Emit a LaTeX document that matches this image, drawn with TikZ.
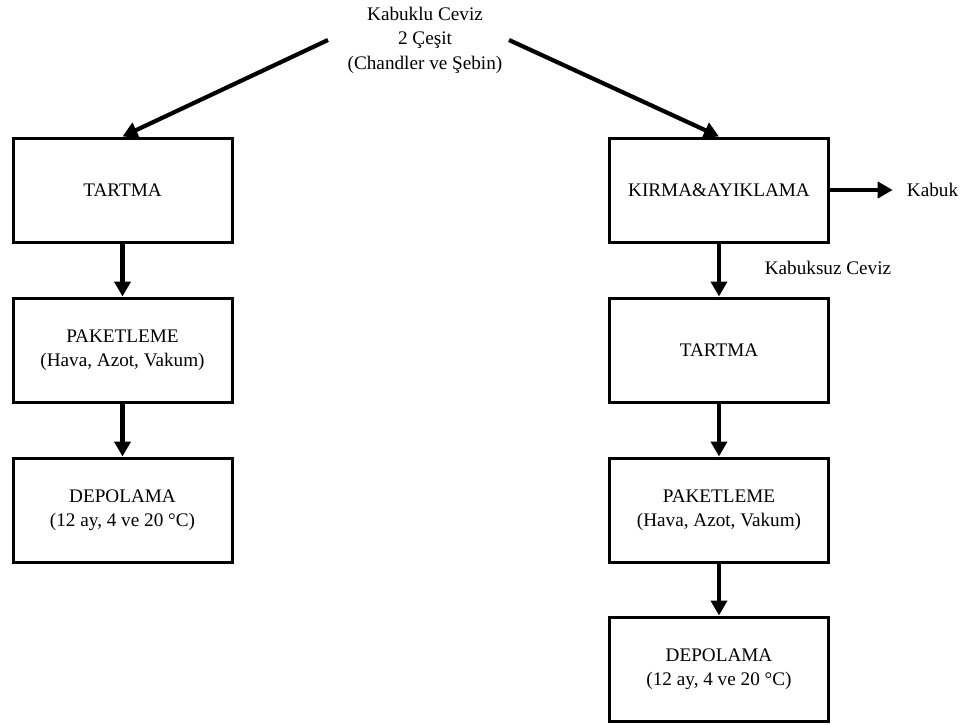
\documentclass[tikz,border=0pt]{standalone}
\usepackage{fontspec}
\setmainfont{Liberation Serif}
\usetikzlibrary{arrows.meta}

\begin{document}
\begin{tikzpicture}[x=1pt,y=-1pt,
    process/.style ={rectangle, draw, line width=3pt, minimum width=219pt, minimum height=104pt, align=center, font=\fontsize{19.2}{24.5}\selectfont},
    tag/.style ={inner sep=0pt, align=center, font=\fontsize{19.2}{24.5}\selectfont},
    flow/.style ={line width=4.2pt, -{Triangle[length=15pt,width=16pt]}}]
   \useasboundingbox (0,0) rectangle (969,724);
   \node[tag] (source) at (425,40)  {Kabuklu Ceviz\\2 Çeşit\\(Chandler ve Şebin)};
   \coordinate (lstart) at (328,40);
   \coordinate (rstart) at (509,40);
   % left column
   \node[process] (ltartma) at (122.5,190)  {TARTMA};
   \node[process] (lpaket) at (122.5,350)  {PAKETLEME\\(Hava, Azot, Vakum)};
   \node[process] (ldepo) at (122.5,510)  {DEPOLAMA\\(12 ay, 4 ve 20 °C)};
   % right column
   \node[process] (kirma) at (719,190)  {KIRMA\&AYIKLAMA};
   \node[process] (rtartma) at (719,350)  {TARTMA};
   \node[process] (rpaket) at (719,510)  {PAKETLEME\\(Hava, Azot, Vakum)};
   \node[process] (rdepo) at (719,669)  {DEPOLAMA\\(12 ay, 4 ve 20 °C)};
   \node[tag] (kabuk) at (932.5,190)  {Kabuk};
   \node[tag] (ceviz) at (828,268)  {Kabuksuz Ceviz};
   \draw[flow] (lstart) to (ltartma.north);
   \draw[flow] (rstart) to (kirma.north);
   \draw[flow] (ltartma) to (lpaket);
   \draw[flow] (lpaket) to (ldepo);
   \draw[flow] (kirma) to (rtartma);
   \draw[flow] (rtartma) to (rpaket);
   \draw[flow] (rpaket) to (rdepo);
   \draw[flow, shorten >=14pt] (kirma) to (kabuk);
 \end{tikzpicture}
\end{document}
